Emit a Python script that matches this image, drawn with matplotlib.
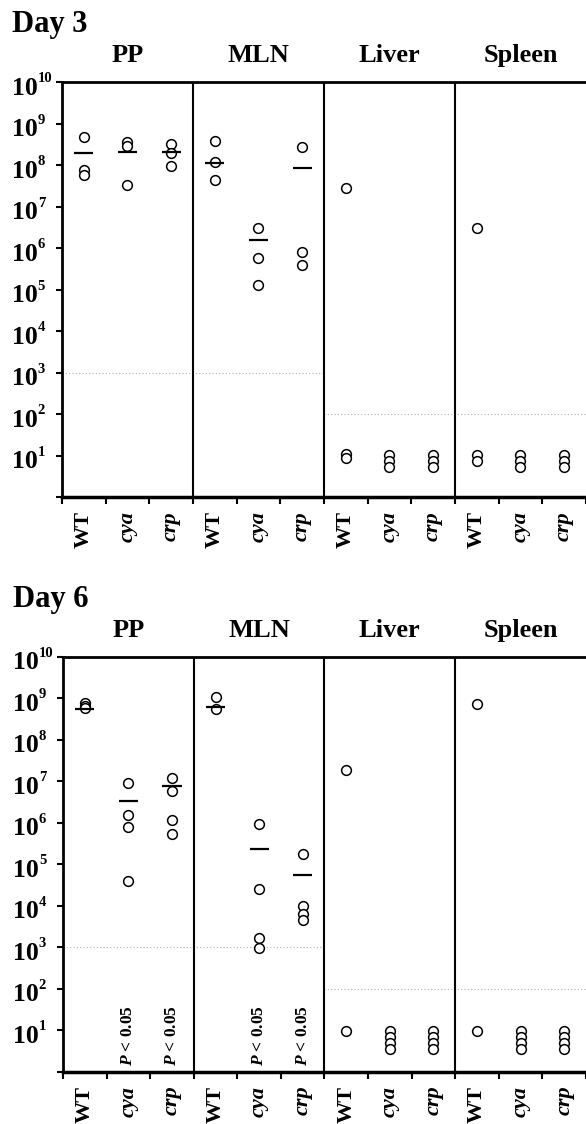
import matplotlib.pyplot as plt
import matplotlib.ticker as ticker
import matplotlib.transforms as mtransforms

plt.rcParams['font.family'] = ['Liberation Serif', 'DejaVu Serif']
plt.rcParams['font.weight'] = 'bold'
plt.rcParams['mathtext.fontset'] = 'custom'
plt.rcParams['mathtext.rm'] = 'Liberation Serif:bold'
plt.rcParams['mathtext.it'] = 'Liberation Serif:italic:bold'
plt.rcParams['mathtext.bf'] = 'Liberation Serif:bold'

organs = ["PP", "MLN", "Liver", "Spleen"]
strains = ["WT", "cya", "crp"]

# CFU per organ: one list per strain (WT, cya, crp)
day3_pp = [[4.7e8, 7.6e7, 5.8e7], [3.6e8, 2.8e8, 3.3e7], [3.2e8, 1.9e8, 9.5e7]]
day3_mln = [[3.8e8, 1.2e8, 4.4e7], [3.0e6, 5.6e5, 1.3e5], [2.7e8, 8.1e5, 3.9e5]]
day3_liver = [[2.8e7, 11, 8.5], [10.3, 7.5, 5.4], [10.3, 7.5, 5.4]]
day3_spleen = [[3.0e6, 10.3, 7.5], [10.3, 7.5, 5.4], [10.3, 7.5, 5.4]]
day3_pp_mean = [2.0e8, 2.1e8, 2.1e8]
day3_mln_mean = [1.15e8, 1.55e6, 8.3e7]

day6_pp = [[7.8e8, 6.5e8, 5.8e8], [9.1e6, 1.55e6, 8.1e5, 4.1e4], [1.2e7, 6.0e6, 1.2e6, 5.4e5]]
day6_mln = [[1.1e9, 5.5e8], [9.6e5, 2.6e4, 1.7e3, 9.6e2], [1.8e5, 1.0e4, 6.5e3, 4.5e3]]
day6_liver = [[1.9e7, 9.7], [9.7, 7.1, 5.1, 3.6], [9.7, 7.1, 5.1, 3.6]]
day6_spleen = [[7.4e8, 9.7], [9.7, 7.1, 5.1, 3.6], [9.7, 7.1, 5.1, 3.6]]
day6_pp_mean = [5.5e8, 3.4e6, 7.8e6]
day6_mln_mean = [6.3e8, 2.4e5, 5.6e4]

# detection limits (PP/MLN, Liver/Spleen)
limits = [1e3, 1e2]
signif = ["", "P < 0.05", "P < 0.05"]
exponents = list(range(1, 11))

fig = plt.figure(figsize=(5.86, 11.24), dpi=100)

panels = [
    ("Day 3", [0.1058, 0.5578, 0.8942, 0.3692],
     [day3_pp, day3_mln, day3_liver, day3_spleen], [day3_pp_mean, day3_mln_mean, None, None], False),
    ("Day 6", [0.1075, 0.0463, 0.8925, 0.3692],
     [day6_pp, day6_mln, day6_liver, day6_spleen], [day6_pp_mean, day6_mln_mean, None, None], True),
]

for title, rect, groups, means, show_p in panels:
    ax = fig.add_axes(rect)
    ax.set_yscale('log')
    ax.set_ylim(1, 1e10)
    ax.set_xlim(0, 12)

    for g, (vals, mvals) in enumerate(zip(groups, means)):
        for s in range(3):
            x = g * 3 + s + 0.5
            ax.plot([x] * len(vals[s]), vals[s], 'o', ms=7, mfc='white', mec='black', mew=1.1,
                    zorder=3, clip_on=False)
            if mvals is not None:
                ax.hlines(mvals[s], x - 0.22, x + 0.22, color='black', lw=1.6, zorder=4)
            if show_p and g < 2 and signif[s]:
                ax.text(x, 7.4, r"$P$ < 0.05", rotation=90, ha='center', va='center',
                        fontsize=12.5, fontweight='bold')
        ax.text(g * 3 + 1.5, 1.048, organs[g], transform=ax.get_xaxis_transform(),
                ha='center', va='baseline', fontsize=19, fontweight='bold')

    ax.hlines(limits[0], 0, 6, color='#b0b0b0', lw=0.8, linestyles=(0, (1, 2)), zorder=1)
    ax.hlines(limits[1], 6, 12, color='#b0b0b0', lw=0.8, linestyles=(0, (1, 2)), zorder=1)
    for xd in [3, 6, 9]:
        ax.axvline(xd, color='black', lw=1.5, zorder=2)

    ax.text(-0.095, 1.12, title, transform=ax.transAxes, ha='left', va='baseline',
            fontsize=22, fontweight='bold')

    # y tick marks, labels drawn as "10" plus a small raised exponent
    ax.yaxis.set_major_locator(ticker.FixedLocator([10.0 ** k for k in range(11)]))
    ax.yaxis.set_minor_locator(ticker.NullLocator())
    ax.set_yticklabels([])
    ax.tick_params(axis='y', which='major', direction='out', length=4, width=1.5)
    ytr = ax.get_yaxis_transform()
    base_tr = ytr + mtransforms.ScaledTranslation(0, -9 / 72, fig.dpi_scale_trans)
    exp_tr = ytr + mtransforms.ScaledTranslation(0, 0, fig.dpi_scale_trans)
    for k in exponents:
        ax.text(-0.0954, 10.0 ** k, "10", transform=base_tr, ha='left', va='baseline',
                fontsize=18.5, fontweight='bold', clip_on=False)
        ax.text(-0.0462, 10.0 ** k, str(k), transform=exp_tr, ha='left', va='baseline',
                fontsize=10.5, fontweight='bold', clip_on=False)

    ax.set_xticks(range(13))
    ax.set_xticklabels([])
    ax.set_xticks([i + 0.5 for i in range(12)], minor=True)
    ax.set_xticklabels(strains * 4, minor=True, rotation=90)
    ax.tick_params(axis='x', which='major', direction='out', length=5, width=1.5)
    ax.tick_params(axis='x', which='minor', length=0, pad=10, labelsize=16)
    for lab, name in zip(ax.get_xticklabels(minor=True), strains * 4):
        lab.set_fontweight('bold')
        if name != "WT":
            lab.set_fontstyle('italic')

    ax.spines['left'].set_linewidth(2)
    ax.spines['bottom'].set_linewidth(2.5)
    ax.spines['top'].set_linewidth(2)
    ax.spines['right'].set_visible(False)

fig.savefig("out.png", dpi=100)
